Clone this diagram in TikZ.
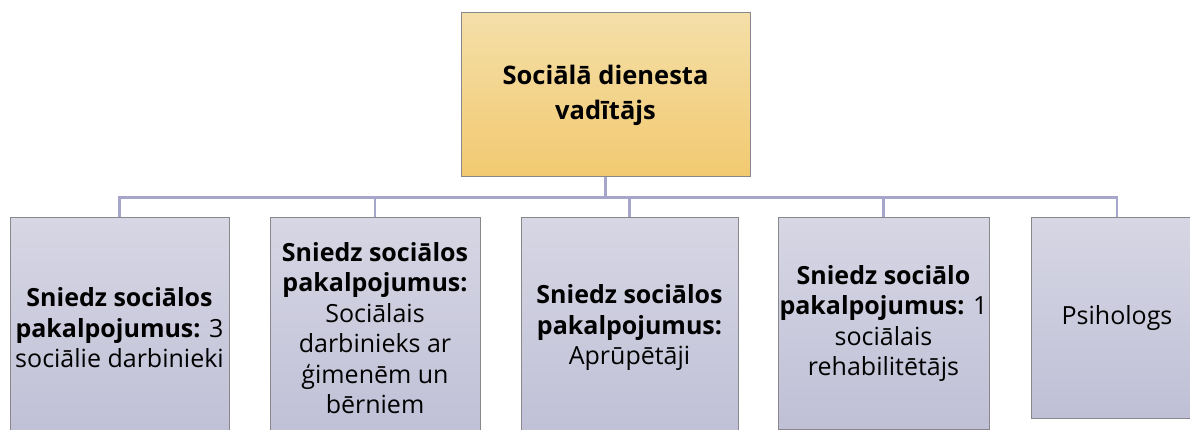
\documentclass[tikz,border=0pt]{standalone}
\usepackage{fontspec}
\setmainfont{Open Sans}
\usepackage{tikz}
\usetikzlibrary{positioning}
\definecolor{HeadTop}{RGB}{244,223,168}
\definecolor{HeadBottom}{RGB}{242,201,112}
\definecolor{StaffTop}{RGB}{214,214,228}
\definecolor{StaffBottom}{RGB}{191,192,214}
\definecolor{BoxEdge}{RGB}{135,135,140}
\definecolor{LinkLine}{RGB}{166,166,204}

\begin{document}
\begin{tikzpicture}[x=1pt, y=-1pt,
        box/.style={draw=BoxEdge, line width=1pt, inner sep=0pt, align=center,
                                font=\fontsize{25}{30.5}\selectfont},
        headbox/.style={box, top color=HeadTop, bottom color=HeadBottom,
                                font=\fontsize{25.5}{35}\selectfont\bfseries},
        staffbox/.style={box, top color=StaffTop, bottom color=StaffBottom},
        link/.style={draw=LinkLine, line width=2.5pt}
]
    \useasboundingbox (0,0) rectangle (1190,430);
    \clip (0,0) rectangle (1190,430);
    \node[headbox, minimum width=289pt, minimum height=164pt] (head) at (605.5,95)
        {Sociālā dienesta\\vadītājs};
    \node[staffbox, minimum width=219pt, minimum height=220pt] (social) at (119.5,328)
        {\textbf{Sniedz sociālos}\\\textbf{pakalpojumus:} 3\\sociālie darbinieki};
    \node[staffbox, minimum width=210pt, minimum height=220pt] (family) at (375,328)
        {\textbf{Sniedz sociālos}\\\textbf{pakalpojumus:}\\Sociālais\\darbinieks ar\\ģimenēm un\\bērniem};
    \node[staffbox, minimum width=217pt, minimum height=220pt] (care) at (629.5,328)
        {\textbf{Sniedz sociālos}\\\textbf{pakalpojumus:}\\Aprūpētāji};
    \node[staffbox, minimum width=211pt, minimum height=211pt] (rehab) at (883.5,323.5)
        {\textbf{Sniedz sociālo}\\\textbf{pakalpojumus:} 1\\sociālais\\rehabilitētājs};
    \node[staffbox, minimum width=172pt, minimum height=200pt] (psych) at (1117,318)
        {Psihologs};
    \draw[link] (head.south) -- ++(0,20) coordinate (bus);
    \draw[link] (social.north) |- (bus) -| (psych.north);
    \draw[link] (family.north) -- (family.north |- bus);
    \draw[link] (care.north) -- (care.north |- bus);
    \draw[link] (rehab.north) -- (rehab.north |- bus);
\end{tikzpicture}
\end{document}
